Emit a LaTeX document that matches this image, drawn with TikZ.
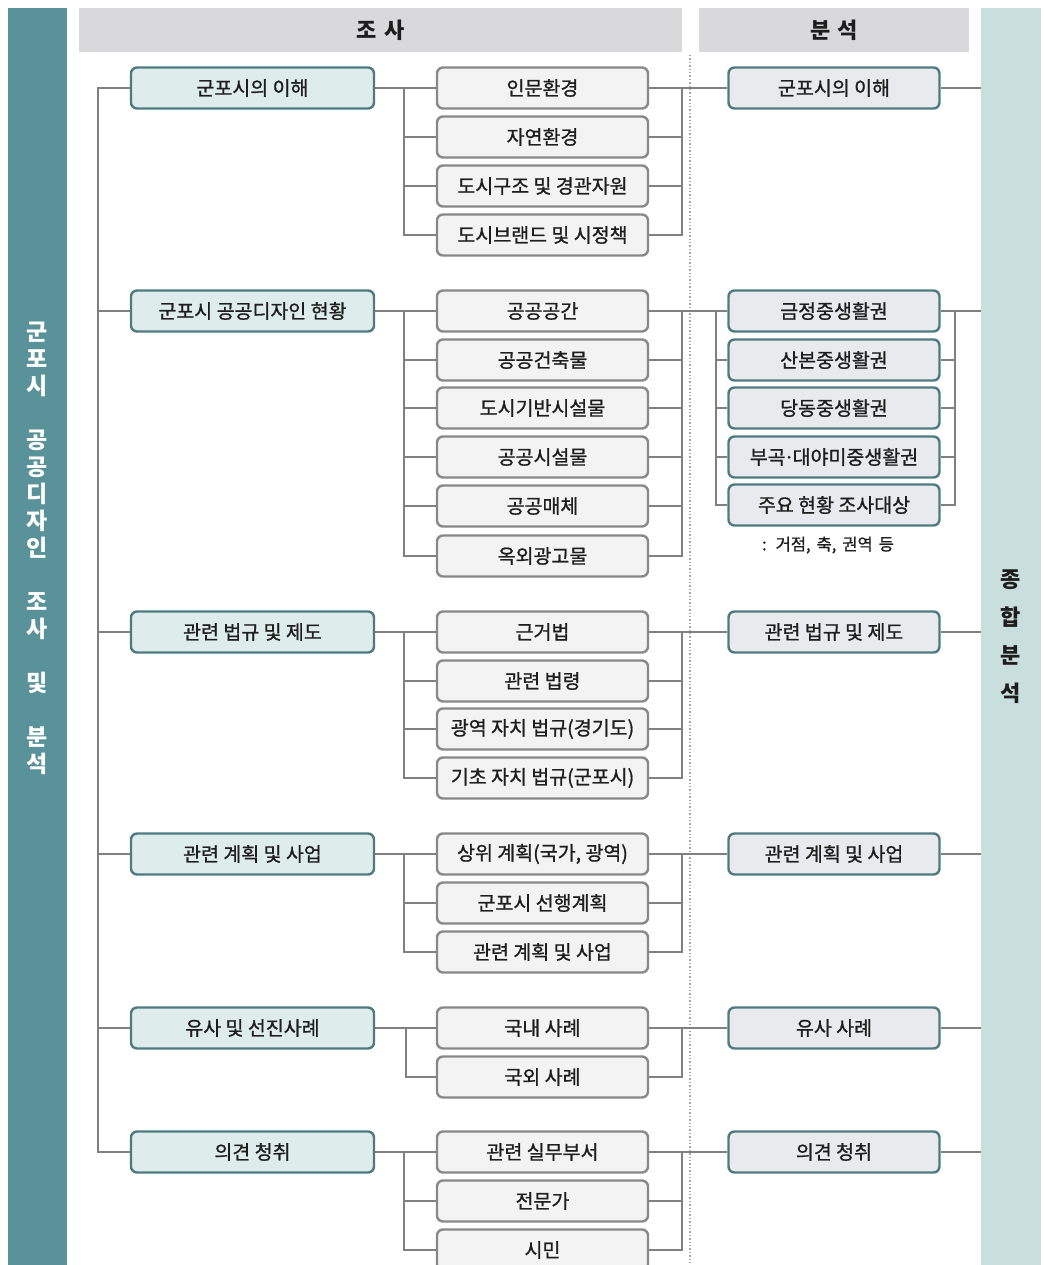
\documentclass[tikz,border=0pt]{standalone}
\usepackage{fontspec}
\setmainfont{Noto Sans CJK KR}
\newfontfamily\medfont[FakeBold=1.0]{Noto Sans CJK KR}
\definecolor{lbar}{HTML}{5A9299}
\definecolor{rbarc}{HTML}{C8DFDD}
\definecolor{hdr}{HTML}{D9D9DB}
\definecolor{lonefill}{HTML}{DFECEC}
\definecolor{teal}{HTML}{4F7B80}
\definecolor{ltwofill}{HTML}{F2F3F2}
\definecolor{ltwoline}{HTML}{888888}
\definecolor{anfill}{HTML}{E9EAED}
\definecolor{connc}{HTML}{808083}
\definecolor{txt}{HTML}{1E1E1E}
\begin{document}
\begin{tikzpicture}[x=1pt,y=-1pt,
  boxbase/.style={rectangle, rounded corners=6pt, line width=2.4pt, inner sep=0pt,
    minimum height=41pt, text=txt, font=\medfont\fontsize{19.5}{21}\selectfont},
  lone/.style={boxbase, draw=teal, fill=lonefill, minimum width=243pt},
  ltwo/.style={boxbase, draw=ltwoline, fill=ltwofill, minimum width=211pt},
  anbox/.style={boxbase, draw=teal, fill=anfill, minimum width=211pt},
  conn/.style={draw=connc, line width=2pt},
  hdrbox/.style={rectangle, fill=hdr, inner sep=0pt, font=\fontsize{22}{24}\selectfont\bfseries, text=txt}
]
\useasboundingbox (0,0) rectangle (1044,1265);
\fill[white] (0,0) rectangle (1044,1265);

% side bars
\fill[lbar] (8,8) rectangle (67,1265);
\node[text=white, font=\fontsize{23}{27}\selectfont\bfseries, align=center, inner sep=0pt] (ltitle) at (37.5,548)
  {군\\포\\시\\[27pt]공\\공\\디\\자\\인\\[27pt]조\\사\\[27pt]및\\[27pt]분\\석};
\node[rectangle, fill=rbarc, minimum width=60pt, minimum height=1257pt, inner sep=0pt,
  font=\fontsize{22}{38}\selectfont\bfseries, text=txt, align=center] (rbar) at (1011,636.5)
  {종\\합\\분\\석};

% headers
\node[hdrbox, minimum width=603pt, minimum height=44pt] (h1) at (380.5,30) {조\hspace{7pt}사};
\node[hdrbox, minimum width=270pt, minimum height=44pt] (h2) at (834,30) {분\hspace{7pt}석};

% dotted separator
\draw[dotted, draw=connc!70, line width=1.4pt] (690,55) -- (690,1265);

% level 1
\node[lone] (a1) at (252.5,88) {군포시의 이해};
\node[lone] (a2) at (252.5,311) {군포시 공공디자인 현황};
\node[lone] (a3) at (252.5,632) {관련 법규 및 제도};
\node[lone] (a4) at (252.5,854) {관련 계획 및 사업};
\node[lone] (a5) at (252.5,1028) {유사 및 선진사례};
\node[lone] (a6) at (252.5,1152) {의견 청취};

% level 2
\node[ltwo] (b11) at (542.5,88) {인문환경};
\node[ltwo] (b12) at (542.5,137) {자연환경};
\node[ltwo] (b13) at (542.5,186) {도시구조 및 경관자원};
\node[ltwo] (b14) at (542.5,235) {도시브랜드 및 시정책};

\node[ltwo] (b21) at (542.5,311) {공공공간};
\node[ltwo] (b22) at (542.5,360) {공공건축물};
\node[ltwo] (b23) at (542.5,408) {도시기반시설물};
\node[ltwo] (b24) at (542.5,457) {공공시설물};
\node[ltwo] (b25) at (542.5,506) {공공매체};
\node[ltwo] (b26) at (542.5,556) {옥외광고물};

\node[ltwo] (b31) at (542.5,632) {근거법};
\node[ltwo] (b32) at (542.5,681) {관련 법령};
\node[ltwo] (b33) at (542.5,729) {광역 자치 법규(경기도)};
\node[ltwo] (b34) at (542.5,778) {기초 자치 법규(군포시)};

\node[ltwo] (b41) at (542.5,854) {상위 계획(국가, 광역)};
\node[ltwo] (b42) at (542.5,903) {군포시 선행계획};
\node[ltwo] (b43) at (542.5,952) {관련 계획 및 사업};

\node[ltwo] (b51) at (542.5,1028) {국내 사례};
\node[ltwo] (b52) at (542.5,1077) {국외 사례};

\node[ltwo] (b61) at (542.5,1152) {관련 실무부서};
\node[ltwo] (b62) at (542.5,1201) {전문가};
\node[ltwo] (b63) at (542.5,1250) {시민};

% analysis
\node[anbox] (c1) at (834,88) {군포시의 이해};
\node[anbox] (c21) at (834,311) {금정중생활권};
\node[anbox] (c22) at (834,360) {산본중생활권};
\node[anbox] (c23) at (834,408) {당동중생활권};
\node[anbox] (c24) at (834,457) {부곡\kern-2pt·\kern-2pt대야미중생활권};
\node[anbox] (c25) at (834,505) {주요 현황 조사대상};
\node[text=txt, font=\medfont\fontsize{16.5}{18}\selectfont, inner sep=0pt] (note) at (828,545) {:\hspace{9pt}거점,\hspace{6pt}축,\hspace{6pt}권역\hspace{6pt}등};
\node[anbox] (c3) at (834,632) {관련 법규 및 제도};
\node[anbox] (c4) at (834,854) {관련 계획 및 사업};
\node[anbox] (c5) at (834,1028) {유사 사례};
\node[anbox] (c6) at (834,1152) {의견 청취};

% main left spine
\draw[conn] (a1.west) -- ++(-32,0) |- (a6.west);
\foreach \n in {a2,a3,a4,a5} \draw[conn] (\n.west) -- ++(-32,0);

% group connectors (left side of level 2)
\draw[conn] (a1.east) -- (b11.west);
\draw[conn] (b11.west) ++(-32,0) |- (b14.west);
\foreach \n in {b12,b13} \draw[conn] (\n.west) -- ++(-32,0);

\draw[conn] (a2.east) -- (b21.west);
\draw[conn] (b21.west) ++(-32,0) |- (b26.west);
\foreach \n in {b22,b23,b24,b25} \draw[conn] (\n.west) -- ++(-32,0);

\draw[conn] (a3.east) -- (b31.west);
\draw[conn] (b31.west) ++(-32,0) |- (b34.west);
\foreach \n in {b32,b33} \draw[conn] (\n.west) -- ++(-32,0);

\draw[conn] (a4.east) -- (b41.west);
\draw[conn] (b41.west) ++(-32,0) |- (b43.west);
\draw[conn] (b42.west) -- ++(-32,0);

\draw[conn] (a5.east) -- (b51.west);
\draw[conn] (b51.west) ++(-30,0) |- (b52.west);

\draw[conn] (a6.east) -- (b61.west);
\draw[conn] (b61.west) ++(-32,0) |- (b63.west);
\draw[conn] (b62.west) -- ++(-32,0);

% right side of level 2
\draw[conn] (b11.east) -- (c1.west);
\draw[conn] (b11.east) ++(33,0) |- (b14.east);
\foreach \n in {b12,b13} \draw[conn] (\n.east) -- ++(33,0);

\draw[conn] (b21.east) -- (c21.west);
\draw[conn] (b21.east) ++(33,0) |- (b26.east);
\foreach \n in {b22,b23,b24,b25} \draw[conn] (\n.east) -- ++(33,0);

\draw[conn] (b31.east) -- (c3.west);
\draw[conn] (b31.east) ++(33,0) |- (b34.east);
\foreach \n in {b32,b33} \draw[conn] (\n.east) -- ++(33,0);

\draw[conn] (b41.east) -- (c4.west);
\draw[conn] (b41.east) ++(33,0) |- (b43.east);
\draw[conn] (b42.east) -- ++(33,0);

\draw[conn] (b51.east) -- (c5.west);
\draw[conn] (b51.east) ++(33,0) |- (b52.east);

\draw[conn] (b61.east) -- (c6.west);
\draw[conn] (b61.east) ++(33,0) |- (b63.east);
\draw[conn] (b62.east) -- ++(33,0);

% analysis group spines
\draw[conn] (c21.west) ++(-11,0) |- (c25.west);
\foreach \n in {c22,c23,c24} \draw[conn] (\n.west) -- ++(-11,0);
\draw[conn] (c21.east) ++(14,0) |- (c25.east);
\foreach \n in {c22,c23,c24} \draw[conn] (\n.east) -- ++(14,0);

% to synthesis bar
\foreach \n in {c1,c21,c3,c4,c5,c6} \draw[conn] (\n.east) -- (\n.east -| rbar.west);
\end{tikzpicture}
\end{document}
